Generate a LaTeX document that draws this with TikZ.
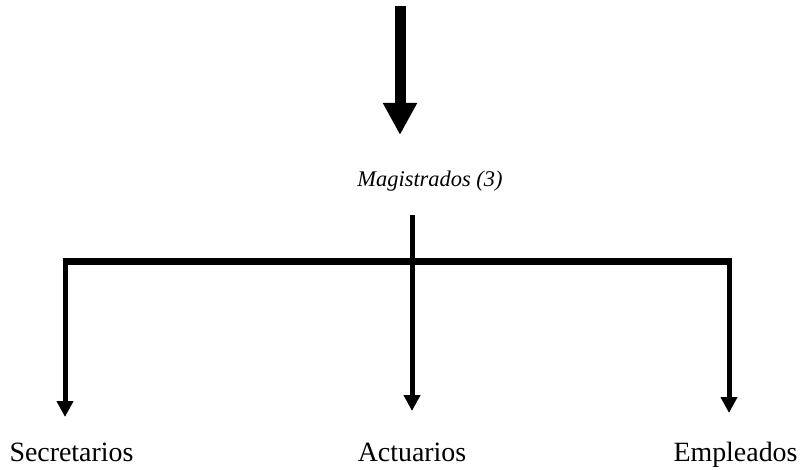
\documentclass[tikz,border=0pt]{standalone}
\usepackage{fontspec}
\setmainfont{Liberation Serif}
\usetikzlibrary{arrows.meta}
\begin{document}
\begin{tikzpicture}[x=1bp,y=-1bp,
  lbl/.style={inner sep=0pt,font=\fontsize{28}{32}\selectfont},
  bigarrow/.style={line width=11bp,-{Triangle[width=32bp,length=32bp]}},
  branch/.style={line width=5bp,-{Triangle[width=16bp,length=16bp]}},
  bar/.style={line width=7bp}]
\useasboundingbox (0,0) rectangle (806,470);
\coordinate (top) at (400,6);
\coordinate (topend) at (400,135);
\draw[bigarrow] (top) -- (topend);
\node[inner sep=0pt,font=\fontsize{22.5}{26}\selectfont\itshape] (mag) at (430,181) {Magistrados (3)};
\coordinate (stem) at (412,215);
\coordinate (jl) at (65,262);
\coordinate (jc) at (412,262);
\coordinate (jr) at (729,262);
\coordinate (tl) at (65,417);
\coordinate (tc) at (412,411);
\coordinate (tr) at (729,413);
\draw[bar] ([xshift=-2.5bp]jl) -- ([xshift=2.5bp]jr);
\draw[branch] (stem) -- (tc);
\draw[branch] ([yshift=-3.5bp]jl) -- (tl);
\draw[branch] ([yshift=-3.5bp]jr) -- (tr);
\node[lbl,anchor=base] (sec) at (71.5,461) {Secretarios};
\node[lbl,anchor=base] (act) at (412,461) {Actuarios};
\node[lbl,anchor=base] (emp) at (735.5,461) {Empleados};
\end{tikzpicture}
\end{document}
